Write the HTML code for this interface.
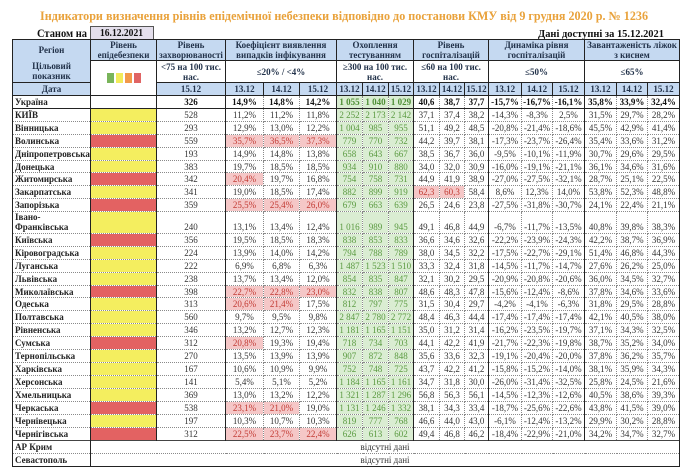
<!DOCTYPE html>
<html><head><meta charset="utf-8">
<style>
html,body{margin:0;padding:0;}
body{width:690px;height:476px;background:#fff;position:relative;overflow:hidden;font-family:"Liberation Serif","DejaVu Serif",serif;}
.box{position:absolute;left:90px;top:26px;width:62px;height:12px;background:#E4DFEC;border:1px solid #555;}
table{position:absolute;left:12px;top:39px;border-collapse:collapse;table-layout:fixed;width:667px;}
td{padding:0;font-size:9px;line-height:10px;text-align:center;vertical-align:middle;color:#333;white-space:nowrap;overflow:hidden;}
tr{height:13px;}
tr.r12{height:12px;}
tr.h td{border:1px solid #222;font-weight:bold;color:#22324a;background:#C5D9F1;}
tr.h2 td{background:#fff;}
tr.h2 td.rg{background:#C5D9F1;}
td.nb{border-bottom-style:hidden !important;}
td.nt{border-top-style:hidden !important;}
tr.d td{border:1px dotted #8a8a8a;}
tr.d td:nth-child(1),tr.d td:nth-child(2),tr.d td:nth-child(3),tr.d td:nth-child(6),tr.d td:nth-child(9),tr.d td:nth-child(12),tr.d td:nth-child(15),tr.d td:nth-child(18){border-right:1px solid #222;}
tr.d td:nth-child(1){border-left:1px solid #222;text-align:left;padding-left:2px;font-weight:bold;color:#222;}
tr.d td:nth-child(7),tr.d td:nth-child(8),tr.d td:nth-child(9){background:#DAEDD2;color:#5a9a40;}
tr.u td{border-top:1px solid #222 !important;border-bottom:1px solid #222 !important;font-weight:bold;color:#111;}
tr.u td:nth-child(7),tr.u td:nth-child(8),tr.u td:nth-child(9){color:#4e8f35;}
td.y{background:#F4EE5F !important;}
td.r{background:#E36262 !important;}
td.hl{background:#F5C7C7 !important;color:#C23A33 !important;}
tr.tall td{vertical-align:bottom;padding-bottom:1px;}
tr.tall td:nth-child(1){line-height:10px;}
tr.na td.na{font-weight:normal;color:#333;text-align:center;background:#fff;}
tr.last td{border-bottom:1px solid #222 !important;}
.sq{display:inline-block;width:7px;height:10px;margin-right:2px;vertical-align:middle;}
</style></head>
<body>
<div class="box"></div>
<svg style="position:absolute;left:0;top:0" width="690" height="40">
<text x="40" y="20" textLength="608" lengthAdjust="spacingAndGlyphs" font-family="Liberation Serif, serif" font-weight="bold" font-size="12.5" fill="#E9A23B">Індикатори визначення рівнів епідемічної небезпеки відповідно до постанови КМУ від 9 грудня 2020 р. № 1236</text>
<text x="37" y="37" textLength="50" lengthAdjust="spacingAndGlyphs" font-family="Liberation Serif, serif" font-weight="bold" font-size="11.5" fill="#111">Станом на</text>
<text x="100" y="36" textLength="43" lengthAdjust="spacingAndGlyphs" font-family="Liberation Serif, serif" font-weight="bold" font-size="10.5" fill="#111">16.12.2021</text>
<text x="538" y="37" textLength="126" lengthAdjust="spacingAndGlyphs" font-family="Liberation Serif, serif" font-weight="bold" font-size="11" fill="#111">Дані доступні за 15.12.2021</text>
</svg>

<table>
<colgroup>
<col style="width:78px"><col style="width:66px"><col style="width:69px">
<col style="width:38px"><col style="width:36px"><col style="width:37px">
<col style="width:26px"><col style="width:26px"><col style="width:25px">
<col style="width:26px"><col style="width:25px"><col style="width:24px">
<col style="width:33px"><col style="width:31px"><col style="width:32px">
<col style="width:32px"><col style="width:31px"><col style="width:32px">
</colgroup>
<tr class="h" style="height:21px">
<td class="nb">Регіон</td>
<td>Рівень<br>епідебезпеки</td>
<td>Рівень<br>захворюваності</td>
<td colspan="3">Коефіцієнт виявлення<br>випадків інфікування</td>
<td colspan="3">Охоплення<br>тестуванням</td>
<td colspan="3">Рівень<br>госпіталізацій</td>
<td colspan="3">Динаміка рівня<br>госпіталізацій</td>
<td colspan="3">Завантаженість ліжок<br>з киснем</td>
</tr>
<tr class="h h2" style="height:22px">
<td class="rg nt">Цільовий<br>показник</td>
<td rowspan="2"><span class="sq" style="background:#79B45A"></span><span class="sq" style="background:#F2EB5B"></span><span class="sq" style="background:#F2994A"></span><span class="sq" style="background:#E06464;margin-right:0"></span></td>
<td>&lt;75 на 100 тис.<br>нас.</td>
<td colspan="3">≤20% / &lt;4%</td>
<td colspan="3">≥300 на 100 тис.<br>нас.</td>
<td colspan="3">≤60 на 100 тис.<br>нас.</td>
<td colspan="3">≤50%</td>
<td colspan="3">≤65%</td>
</tr>
<tr class="h" style="height:13px">
<td>Дата</td>
<td>15.12</td>
<td>13.12</td><td>14.12</td><td>15.12</td>
<td>13.12</td><td>14.12</td><td>15.12</td>
<td>13.12</td><td>14.12</td><td>15.12</td>
<td>13.12</td><td>14.12</td><td>15.12</td>
<td>13.12</td><td>14.12</td><td>15.12</td>
</tr>
<tr class="d u"><td>Україна</td><td></td><td>326</td><td>14,9%</td><td>14,8%</td><td>14,2%</td><td>1 055</td><td>1 040</td><td>1 029</td><td>40,6</td><td>38,7</td><td>37,7</td><td>-15,7%</td><td>-16,7%</td><td>-16,1%</td><td>35,8%</td><td>33,9%</td><td>32,4%</td></tr>
<tr class="d"><td>КИЇВ</td><td class="y"></td><td>528</td><td>11,2%</td><td>11,2%</td><td>11,8%</td><td>2 252</td><td>2 173</td><td>2 142</td><td>37,1</td><td>37,4</td><td>38,2</td><td>-14,3%</td><td>-8,3%</td><td>2,5%</td><td>31,5%</td><td>29,7%</td><td>28,2%</td></tr>
<tr class="d"><td>Вінницька</td><td class="y"></td><td>293</td><td>12,9%</td><td>13,0%</td><td>12,2%</td><td>1 004</td><td>985</td><td>955</td><td>51,1</td><td>49,2</td><td>48,5</td><td>-20,8%</td><td>-21,4%</td><td>-18,6%</td><td>45,5%</td><td>42,9%</td><td>41,4%</td></tr>
<tr class="d"><td>Волинська</td><td class="r"></td><td>559</td><td class="hl">35,7%</td><td class="hl">36,5%</td><td class="hl">37,3%</td><td>779</td><td>770</td><td>732</td><td>44,2</td><td>39,7</td><td>38,1</td><td>-17,3%</td><td>-23,7%</td><td>-26,4%</td><td>35,4%</td><td>33,6%</td><td>31,2%</td></tr>
<tr class="d"><td>Дніпропетровська</td><td class="y"></td><td>193</td><td>14,9%</td><td>14,8%</td><td>13,8%</td><td>658</td><td>643</td><td>667</td><td>38,5</td><td>36,7</td><td>36,0</td><td>-9,5%</td><td>-10,1%</td><td>-11,9%</td><td>30,7%</td><td>29,6%</td><td>29,5%</td></tr>
<tr class="d r12"><td>Донецька</td><td class="y"></td><td>383</td><td>19,7%</td><td>18,5%</td><td>18,5%</td><td>934</td><td>910</td><td>880</td><td>34,0</td><td>32,0</td><td>30,9</td><td>-16,0%</td><td>-19,1%</td><td>-21,1%</td><td>36,1%</td><td>34,6%</td><td>31,6%</td></tr>
<tr class="d"><td>Житомирська</td><td class="r"></td><td>342</td><td class="hl">20,4%</td><td>19,7%</td><td>16,8%</td><td>754</td><td>758</td><td>731</td><td>44,9</td><td>41,9</td><td>38,9</td><td>-27,0%</td><td>-27,5%</td><td>-32,1%</td><td>28,7%</td><td>25,1%</td><td>22,5%</td></tr>
<tr class="d"><td>Закарпатська</td><td class="y"></td><td>341</td><td>19,0%</td><td>18,5%</td><td>17,4%</td><td>882</td><td>899</td><td>919</td><td class="hl">62,3</td><td class="hl">60,3</td><td>58,4</td><td>8,6%</td><td>12,3%</td><td>14,0%</td><td>53,8%</td><td>52,3%</td><td>48,8%</td></tr>
<tr class="d"><td>Запорізька</td><td class="r"></td><td>359</td><td class="hl">25,5%</td><td class="hl">25,4%</td><td class="hl">26,0%</td><td>679</td><td>663</td><td>639</td><td>26,5</td><td>24,6</td><td>23,8</td><td>-27,5%</td><td>-31,8%</td><td>-30,7%</td><td>24,1%</td><td>22,4%</td><td>21,1%</td></tr>
<tr class="d tall" style="height:22px"><td>Івано-<br>Франківська</td><td class="y"></td><td>240</td><td>13,1%</td><td>13,4%</td><td>12,4%</td><td>1 016</td><td>989</td><td>945</td><td>49,1</td><td>46,8</td><td>44,9</td><td>-6,7%</td><td>-11,7%</td><td>-13,5%</td><td>40,8%</td><td>39,8%</td><td>38,3%</td></tr>
<tr class="d"><td>Київська</td><td class="r"></td><td>356</td><td>19,5%</td><td>18,5%</td><td>18,3%</td><td>838</td><td>853</td><td>833</td><td>36,6</td><td>34,6</td><td>32,6</td><td>-22,2%</td><td>-23,9%</td><td>-24,3%</td><td>42,2%</td><td>38,7%</td><td>36,9%</td></tr>
<tr class="d"><td>Кіровоградська</td><td class="y"></td><td>224</td><td>13,9%</td><td>14,0%</td><td>14,2%</td><td>794</td><td>788</td><td>789</td><td>38,0</td><td>34,5</td><td>32,2</td><td>-17,5%</td><td>-22,7%</td><td>-29,1%</td><td>51,4%</td><td>46,8%</td><td>44,3%</td></tr>
<tr class="d"><td>Луганська</td><td class="y"></td><td>222</td><td>6,9%</td><td>6,8%</td><td>6,3%</td><td>1 487</td><td>1 523</td><td>1 510</td><td>33,3</td><td>32,4</td><td>31,8</td><td>-14,5%</td><td>-11,7%</td><td>-14,7%</td><td>27,6%</td><td>26,2%</td><td>25,0%</td></tr>
<tr class="d"><td>Львівська</td><td class="y"></td><td>238</td><td>13,7%</td><td>13,4%</td><td>12,0%</td><td>854</td><td>835</td><td>847</td><td>32,1</td><td>30,2</td><td>29,5</td><td>-20,9%</td><td>-20,8%</td><td>-20,6%</td><td>36,0%</td><td>34,5%</td><td>32,7%</td></tr>
<tr class="d r12"><td>Миколаївська</td><td class="r"></td><td>398</td><td class="hl">22,7%</td><td class="hl">22,8%</td><td class="hl">23,0%</td><td>832</td><td>838</td><td>807</td><td>48,6</td><td>48,3</td><td>47,8</td><td>-15,6%</td><td>-12,4%</td><td>-8,6%</td><td>37,8%</td><td>34,6%</td><td>33,6%</td></tr>
<tr class="d"><td>Одеська</td><td class="y"></td><td>313</td><td class="hl">20,6%</td><td class="hl">21,4%</td><td>17,5%</td><td>812</td><td>797</td><td>775</td><td>31,5</td><td>30,4</td><td>29,7</td><td>-4,2%</td><td>-4,1%</td><td>-6,3%</td><td>31,8%</td><td>29,5%</td><td>28,8%</td></tr>
<tr class="d"><td>Полтавська</td><td class="y"></td><td>560</td><td>9,7%</td><td>9,5%</td><td>9,8%</td><td>2 847</td><td>2 780</td><td>2 772</td><td>48,4</td><td>46,3</td><td>44,4</td><td>-17,4%</td><td>-17,4%</td><td>-17,4%</td><td>42,1%</td><td>40,5%</td><td>38,0%</td></tr>
<tr class="d"><td>Рівненська</td><td class="y"></td><td>346</td><td>13,2%</td><td>12,7%</td><td>12,3%</td><td>1 181</td><td>1 165</td><td>1 151</td><td>35,0</td><td>31,2</td><td>31,4</td><td>-16,2%</td><td>-23,5%</td><td>-19,7%</td><td>37,1%</td><td>34,3%</td><td>32,5%</td></tr>
<tr class="d"><td>Сумська</td><td class="r"></td><td>312</td><td class="hl">20,8%</td><td>19,3%</td><td>19,4%</td><td>718</td><td>734</td><td>703</td><td>44,1</td><td>42,2</td><td>41,9</td><td>-21,7%</td><td>-22,3%</td><td>-19,8%</td><td>38,7%</td><td>35,2%</td><td>34,0%</td></tr>
<tr class="d"><td>Тернопільська</td><td class="y"></td><td>270</td><td>13,5%</td><td>13,9%</td><td>13,9%</td><td>907</td><td>872</td><td>848</td><td>35,6</td><td>33,6</td><td>32,3</td><td>-19,1%</td><td>-20,4%</td><td>-20,0%</td><td>37,8%</td><td>36,2%</td><td>35,7%</td></tr>
<tr class="d"><td>Харківська</td><td class="y"></td><td>167</td><td>10,6%</td><td>10,9%</td><td>9,9%</td><td>752</td><td>748</td><td>725</td><td>43,7</td><td>42,2</td><td>41,2</td><td>-15,8%</td><td>-15,2%</td><td>-14,0%</td><td>38,1%</td><td>35,9%</td><td>34,3%</td></tr>
<tr class="d"><td>Херсонська</td><td class="y"></td><td>141</td><td>5,4%</td><td>5,1%</td><td>5,2%</td><td>1 184</td><td>1 165</td><td>1 161</td><td>34,7</td><td>31,8</td><td>30,0</td><td>-26,0%</td><td>-31,4%</td><td>-32,5%</td><td>25,8%</td><td>24,5%</td><td>21,6%</td></tr>
<tr class="d"><td>Хмельницька</td><td class="y"></td><td>369</td><td>13,0%</td><td>13,2%</td><td>12,2%</td><td>1 321</td><td>1 287</td><td>1 296</td><td>56,8</td><td>56,3</td><td>56,1</td><td>-14,5%</td><td>-12,3%</td><td>-12,6%</td><td>40,5%</td><td>38,6%</td><td>39,3%</td></tr>
<tr class="d"><td>Черкаська</td><td class="r"></td><td>538</td><td class="hl">23,1%</td><td class="hl">21,0%</td><td>19,0%</td><td>1 131</td><td>1 246</td><td>1 332</td><td>38,1</td><td>34,3</td><td>33,4</td><td>-18,7%</td><td>-25,6%</td><td>-22,6%</td><td>43,8%</td><td>41,5%</td><td>39,0%</td></tr>
<tr class="d"><td>Чернівецька</td><td class="y"></td><td>197</td><td>10,3%</td><td>10,7%</td><td>10,3%</td><td>819</td><td>777</td><td>768</td><td>46,6</td><td>44,0</td><td>43,0</td><td>-6,1%</td><td>-12,4%</td><td>-13,2%</td><td>29,9%</td><td>30,2%</td><td>28,8%</td></tr>
<tr class="d"><td>Чернігівська</td><td class="r"></td><td>312</td><td class="hl">22,5%</td><td class="hl">23,7%</td><td class="hl">22,4%</td><td>626</td><td>613</td><td>602</td><td>49,4</td><td>46,8</td><td>46,2</td><td>-18,4%</td><td>-22,9%</td><td>-21,0%</td><td>34,2%</td><td>34,7%</td><td>32,7%</td></tr>
<tr class="d na"><td style="border-top:1px solid #444">АР Крим</td><td colspan="17" class="na" style="border-top:1px solid #444">відсутні дані</td></tr>
<tr class="d na last"><td>Севастополь</td><td colspan="17" class="na">відсутні дані</td></tr>
</table>
</body></html>
